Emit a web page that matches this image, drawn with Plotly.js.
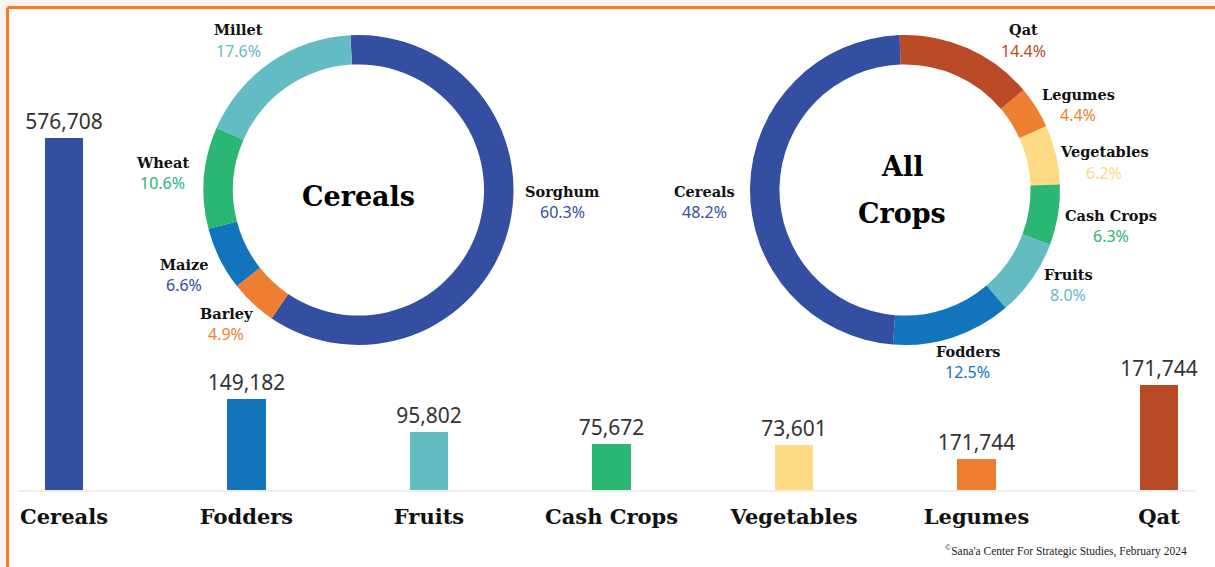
<!DOCTYPE html>
<html>
<head>
<meta charset="utf-8">
<script src="https://cdn.plot.ly/plotly-3.0.1.min.js"></script>
<style>
html,body{margin:0;padding:0;background:#fff;}
#chart{width:1215px;height:567px;}
</style>
</head>
<body>
<div id="chart"></div>
<script>
// ---- Data ----
var categories = ["Cereals", "Fodders", "Fruits", "Cash Crops", "Vegetables", "Legumes", "Qat"];
var barValues = [576708, 149182, 95802, 75672, 73601, 50500, 171744];
var barLabels = ["576,708", "149,182", "95,802", "75,672", "73,601", "171,744", "171,744"];

var cerealNames = ["Sorghum", "Barley", "Maize", "Wheat", "Millet"];
var cerealShares = [60.3, 4.9, 6.6, 10.6, 17.6];

var cropNames = ["Qat", "Legumes", "Vegetables", "Cash Crops", "Fruits", "Fodders", "Cereals"];
var cropShares = [14.4, 4.4, 6.2, 6.3, 8.0, 12.5, 48.2];

// ---- Styles ----
var C = {
  "Cereals": "#344ea1", "Fodders": "#1275bc", "Fruits": "#63bbc4",
  "Cash Crops": "#2bb673", "Vegetables": "#fdda84", "Legumes": "#ef7f30", "Qat": "#b84a25"
};
var cerealColors = {"Sorghum": "#344ea1", "Barley": "#ef7f30", "Maize": "#1275bc", "Wheat": "#2bb673", "Millet": "#63bbc4"};
var cerealTextColors = {"Sorghum": "#344ea1", "Barley": "#ef7f30", "Maize": "#344ea1", "Wheat": "#2bb673", "Millet": "#63bbc4"};

var W = 1215, H = 567;
var M = {l: 18, r: 19, t: 10, b: 77};
var PW = W - M.l - M.r, PH = H - M.t - M.b;
function px(x){ return (x - M.l) / PW; }
function py(y){ return (H - M.b - y) / PH; }

var serif = "DejaVu Serif, Liberation Serif, serif";
var sans = "Noto Sans, Open Sans, sans-serif";

var traces = [];
traces.push({
  type: "bar",
  x: categories,
  y: barValues,
  text: barLabels,
  texttemplate: "%{text}",
  textposition: "outside",
  constraintext: "none",
  cliponaxis: false,
  outsidetextfont: {family: sans, size: 21, color: "#333333"},
  width: 0.21,
  marker: {color: categories.map(function(c){ return C[c]; }), line: {width: 0}},
  hoverinfo: "skip",
  showlegend: false
});

var pieY = [py(345), py(35)];
traces.push({
  type: "pie",
  labels: cerealNames,
  values: cerealShares,
  sort: false,
  direction: "clockwise",
  rotation: -3,
  hole: 0.81,
  textinfo: "none",
  hoverinfo: "skip",
  marker: {colors: cerealNames.map(function(n){ return cerealColors[n]; }), line: {width: 0}},
  domain: {x: [px(203.5), px(513.5)], y: pieY},
  showlegend: false
});
traces.push({
  type: "pie",
  labels: cropNames,
  values: cropShares,
  sort: false,
  direction: "clockwise",
  rotation: -2,
  hole: 0.81,
  textinfo: "none",
  hoverinfo: "skip",
  marker: {colors: cropNames.map(function(n){ return C[n]; }), line: {width: 0}},
  domain: {x: [px(750), px(1060)], y: pieY},
  showlegend: false
});

// label positions (pixel centers of name line)
var cerealLabelPos = {
  "Millet": [238, 30], "Wheat": [162, 162], "Maize": [184, 264],
  "Barley": [226, 313], "Sorghum": [562, 191]
};
var cropLabelPos = {
  "Qat": [1023, 30], "Legumes": [1078, 94], "Vegetables": [1104, 152],
  "Cash Crops": [1111, 215], "Fruits": [1068, 274], "Fodders": [968, 351], "Cereals": [704, 191]
};

var annotations = [];
function addLabel(name, pct, pos, color){
  annotations.push({xref: "paper", yref: "paper", x: px(pos[0]), y: py(pos[1]),
    text: "<b>" + name + "</b>", showarrow: false, xanchor: "center", yanchor: "middle",
    font: {family: serif, size: 14.5, color: "#111111"}});
  annotations.push({xref: "paper", yref: "paper", x: px(pos[0]), y: py(pos[1] + 21),
    text: pct.toFixed(1) + "%", showarrow: false, xanchor: "center", yanchor: "middle",
    font: {family: sans, size: 16, color: color}});
}
cerealNames.forEach(function(n, i){ addLabel(n, cerealShares[i], cerealLabelPos[n], cerealTextColors[n]); });
cropNames.forEach(function(n, i){ addLabel(n, cropShares[i], cropLabelPos[n], C[n]); });

// center titles
annotations.push({xref: "paper", yref: "paper", x: px(358.5), y: py(197), text: "<b>Cereals</b>",
  showarrow: false, xanchor: "center", yanchor: "middle", font: {family: serif, size: 27, color: "#000"}});
annotations.push({xref: "paper", yref: "paper", x: px(902), y: py(167), text: "<b>All</b>",
  showarrow: false, xanchor: "center", yanchor: "middle", font: {family: serif, size: 27, color: "#000"}});
annotations.push({xref: "paper", yref: "paper", x: px(902), y: py(213), text: "<b>Crops</b>",
  showarrow: false, xanchor: "center", yanchor: "middle", font: {family: serif, size: 27, color: "#000"}});

// source
annotations.push({xref: "paper", yref: "paper", x: px(1189), y: py(550), text: "<sup>©</sup>Sana'a Center For Strategic Studies, February 2024",
  showarrow: false, xanchor: "right", yanchor: "middle", font: {family: "Liberation Serif, serif", size: 11.5, color: "#222"}});

var peach = "#fdf3ee", orange = "#f47a2a";
var shapes = [
  {type: "rect", xref: "paper", yref: "paper", x0: px(-20), x1: px(1240), y0: py(7), y1: py(-20), fillcolor: peach, line: {width: 0}, layer: "below"},
  {type: "rect", xref: "paper", yref: "paper", x0: px(-20), x1: px(7), y0: py(590), y1: py(-20), fillcolor: peach, line: {width: 0}, layer: "below"},
  {type: "line", xref: "paper", yref: "paper", x0: px(7.5), x1: px(1240), y0: py(7.5), y1: py(7.5), line: {color: orange, width: 3}},
  {type: "line", xref: "paper", yref: "paper", x0: px(7.5), x1: px(7.5), y0: py(7.5), y1: py(590), line: {color: orange, width: 3}}
];

var layout = {
  width: W, height: H,
  margin: M,
  paper_bgcolor: "#ffffff",
  plot_bgcolor: "rgba(0,0,0,0)",
  xaxis: {
    type: "category",
    range: [-(64 - M.l) / 182.5, (1196 - 64) / 182.5],
    showgrid: false, zeroline: false,
    showline: true, linecolor: "#eeeeee", linewidth: 2,
    ticks: "", ticklabelstandoff: 7,
    tickfont: {family: serif, size: 21, color: "#111111", weight: "bold"},
    fixedrange: true
  },
  yaxis: {
    range: [0, Math.max.apply(null, barValues) * PH / 352],
    visible: false, showgrid: false, zeroline: false, fixedrange: true
  },
  annotations: annotations,
  shapes: shapes,
  bargap: 0
};

Plotly.newPlot("chart", traces, layout, {staticPlot: true, displayModeBar: false});
</script>
</body>
</html>
